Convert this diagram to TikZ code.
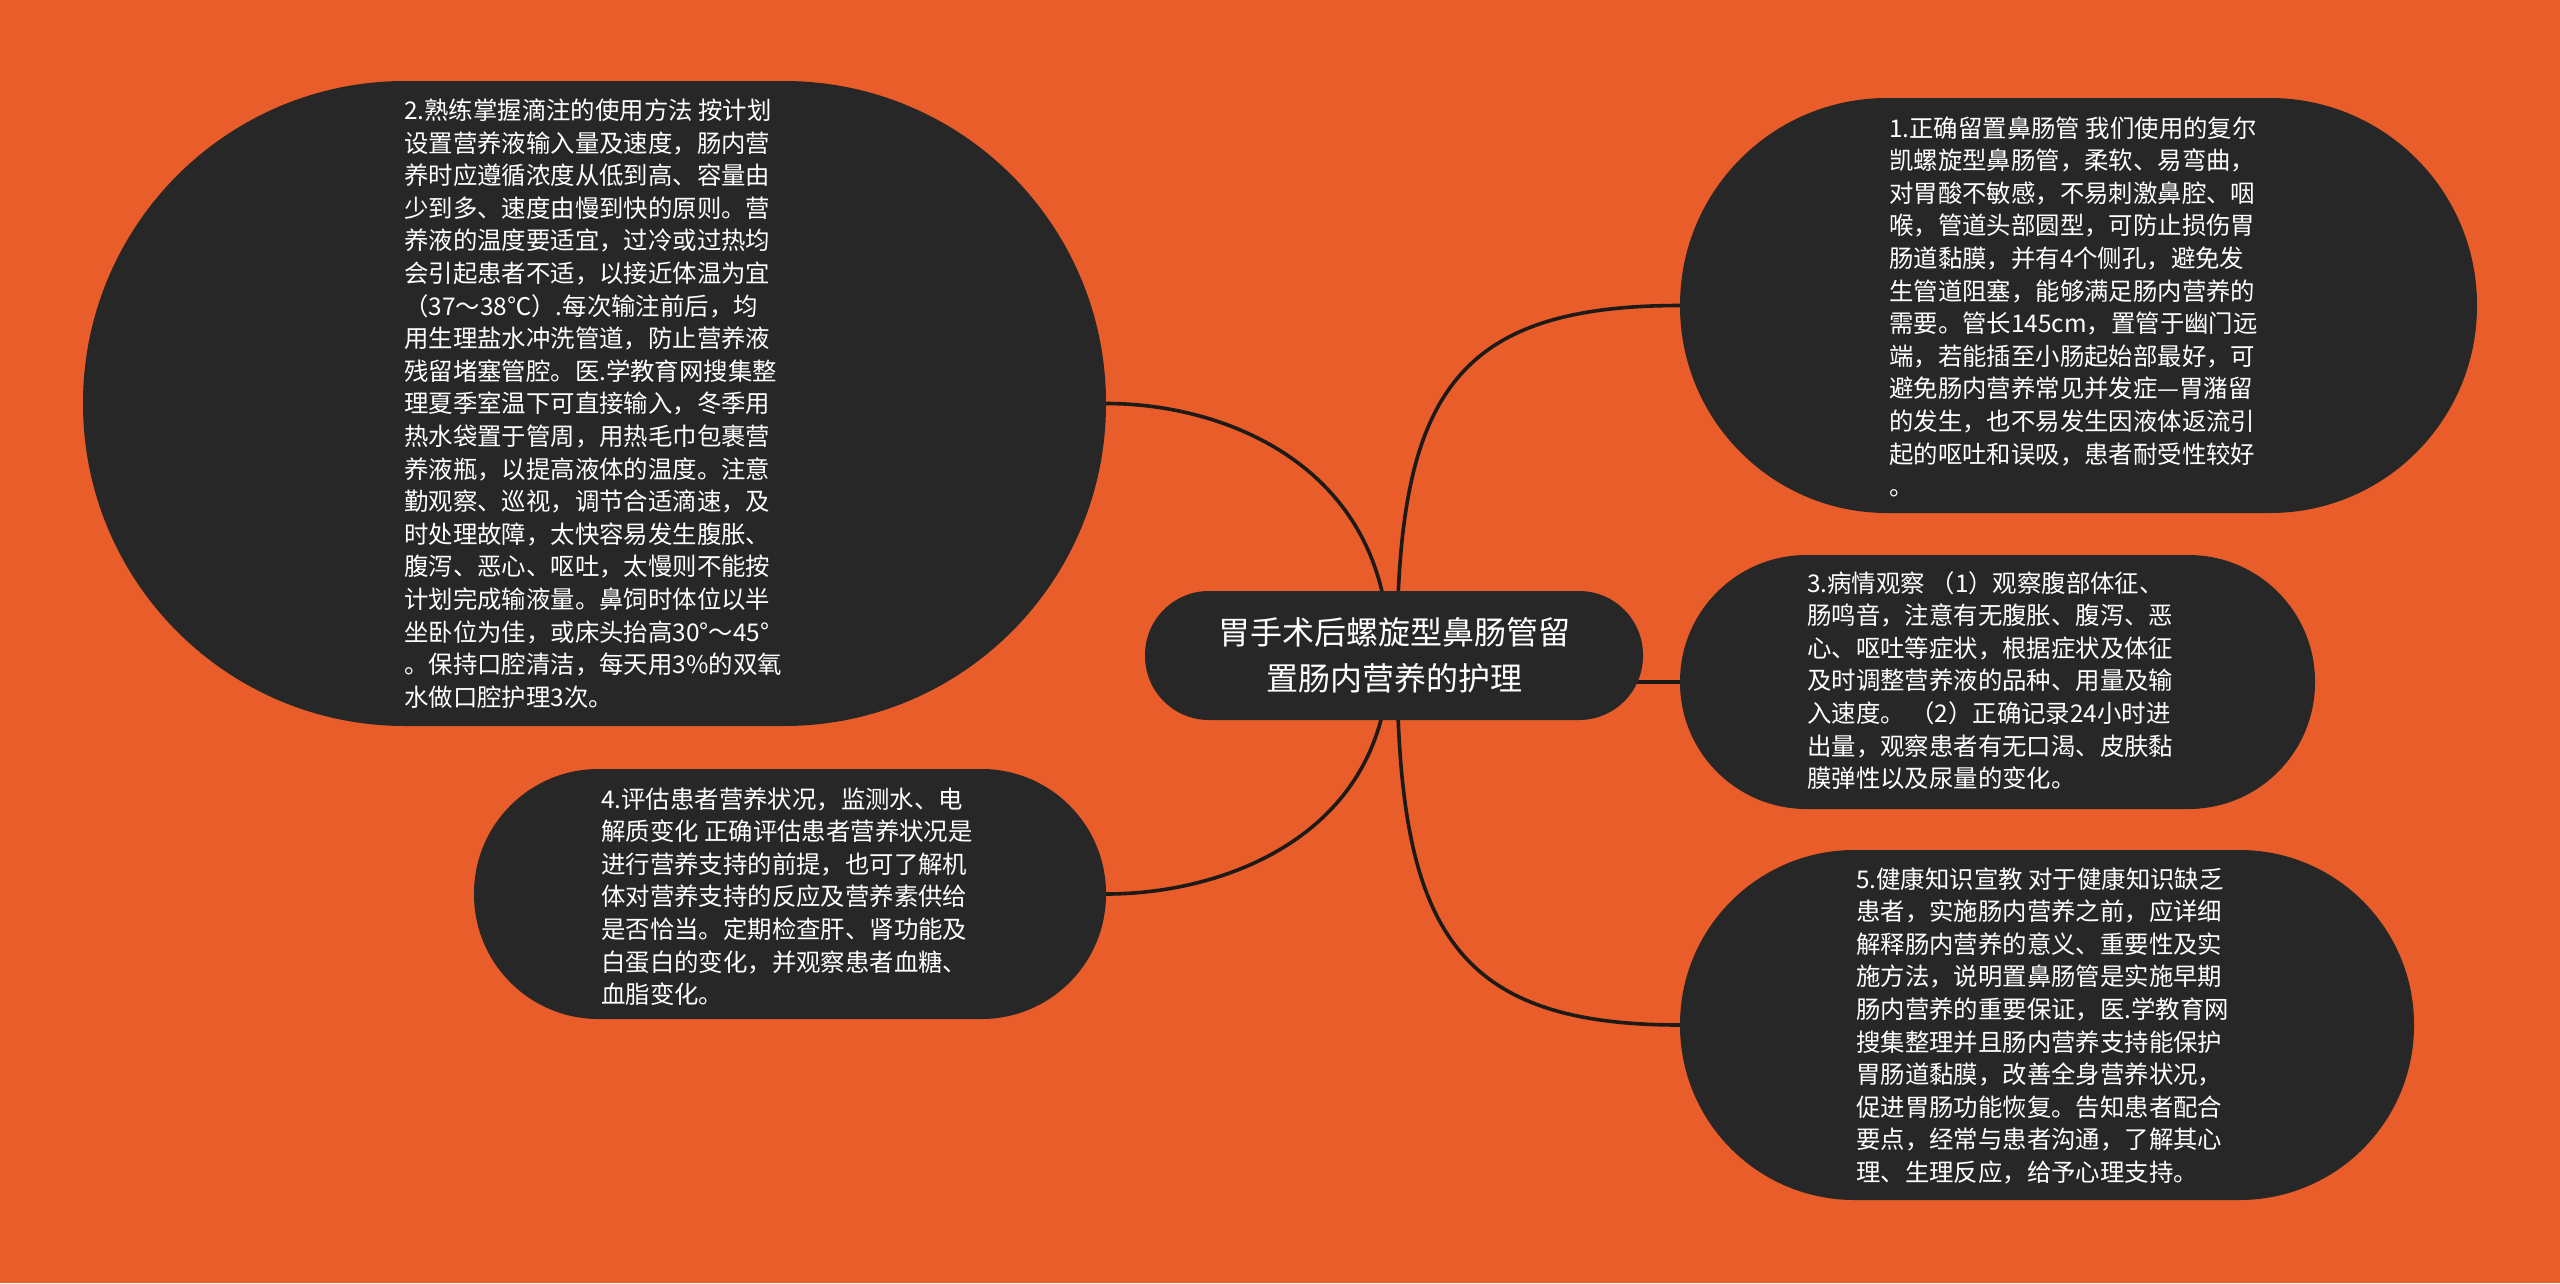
\documentclass[tikz,border=0pt]{standalone}
\usepackage{fontspec}
\newfontfamily\cjk{Noto Sans CJK SC}
\pgfdeclarelayer{back}
\pgfdeclarelayer{conn}
\pgfsetlayers{back,conn,main}
\definecolor{bgorange}{HTML}{E85D2A}
\definecolor{nodedark}{HTML}{272727}
\definecolor{linedark}{HTML}{1E1A18}
\newcommand{\bodytext}[1]{\parbox[t]{700pt}{\raggedright\cjk\fontsize{24.4pt}{32.6pt}\selectfont #1}}
\begin{document}
\begin{tikzpicture}[x=1pt,y=-1pt,
  pill/.style={rectangle, fill=nodedark, inner sep=0pt, rounded corners=#1},
  bodylabel/.style={anchor=base west, inner sep=0pt, text=white},
  connector/.style={draw=linedark, line width=3.6pt},
]
\begin{pgfonlayer}{back}
\fill[bgorange] (0,0) rectangle (2560,1283);
\end{pgfonlayer}
\useasboundingbox (0,0) rectangle (2560,1283);

% centre
\node[pill=64pt, minimum width=498pt, minimum height=129pt, text=white, align=center,
  font={\cjk\fontsize{32pt}{46.4pt}\selectfont}] (ctr) at (1394,655.5)
  {胃手术后螺旋型鼻肠管留\\置肠内营养的护理};

% child shapes
\node[pill=207pt, minimum width=797pt, minimum height=415pt] (n1) at (2078.5,305.5) {};
\node[pill=322pt, minimum width=1023pt, minimum height=645pt] (n2) at (594.5,403.5) {};
\node[pill=126.5pt, minimum width=635pt, minimum height=254pt] (n3) at (1997.5,682) {};
\node[pill=124.5pt, minimum width=632pt, minimum height=250pt] (n4) at (790,894) {};
\node[pill=174.5pt, minimum width=734pt, minimum height=350pt] (n5) at (2047,1025) {};

% texts
\node[bodylabel] (t1) at (1889,137) {\bodytext{1.正确留置鼻肠管 我们使用的复尔\\
凯螺旋型鼻肠管，柔软、易弯曲，\\
对胃酸不敏感，不易刺激鼻腔、咽\\
喉，管道头部圆型，可防止损伤胃\\
肠道黏膜，并有4个侧孔，避免发\\
生管道阻塞，能够满足肠内营养的\\
需要。管长145cm，置管于幽门远\\
端，若能插至小肠起始部最好，可\\
避免肠内营养常见并发症—胃潴留\\
的发生，也不易发生因液体返流引\\
起的呕吐和误吸，患者耐受性较好\\
。}};

\node[bodylabel] (t2) at (404,119.5) {\bodytext{2.熟练掌握滴注的使用方法 按计划\\
设置营养液输入量及速度，肠内营\\
养时应遵循浓度从低到高、容量由\\
少到多、速度由慢到快的原则。营\\
养液的温度要适宜，过冷或过热均\\
会引起患者不适，以接近体温为宜\\
（37～38℃）.每次输注前后，均\\
用生理盐水冲洗管道，防止营养液\\
残留堵塞管腔。医.学教育网搜集整\\
理夏季室温下可直接输入，冬季用\\
热水袋置于管周，用热毛巾包裹营\\
养液瓶，以提高液体的温度。注意\\
勤观察、巡视，调节合适滴速，及\\
时处理故障，太快容易发生腹胀、\\
腹泻、恶心、呕吐，太慢则不能按\\
计划完成输液量。鼻饲时体位以半\\
坐卧位为佳，或床头抬高30°～45°\\
。保持口腔清洁，每天用3\%的双氧\\
水做口腔护理3次。}};

\node[bodylabel] (t3) at (1807,592) {\bodytext{3.病情观察 （1）观察腹部体征、\\
肠鸣音，注意有无腹胀、腹泻、恶\\
心、呕吐等症状，根据症状及体征\\
及时调整营养液的品种、用量及输\\
入速度。 （2）正确记录24小时进\\
出量，观察患者有无口渴、皮肤黏\\
膜弹性以及尿量的变化。}};

\node[bodylabel] (t4) at (601,808) {\bodytext{4.评估患者营养状况，监测水、电\\
解质变化 正确评估患者营养状况是\\
进行营养支持的前提，也可了解机\\
体对营养支持的反应及营养素供给\\
是否恰当。定期检查肝、肾功能及\\
白蛋白的变化，并观察患者血糖、\\
血脂变化。}};

\node[bodylabel] (t5) at (1856,888) {\bodytext{5.健康知识宣教 对于健康知识缺乏\\
患者，实施肠内营养之前，应详细\\
解释肠内营养的意义、重要性及实\\
施方法，说明置鼻肠管是实施早期\\
肠内营养的重要保证，医.学教育网\\
搜集整理并且肠内营养支持能保护\\
胃肠道黏膜，改善全身营养状况，\\
促进胃肠功能恢复。告知患者配合\\
要点，经常与患者沟通，了解其心\\
理、生理反应，给予心理支持。}};

% connectors
\coordinate (hubL) at (1389,655.5);
\coordinate (hubR) at (1397,655.5);
\begin{pgfonlayer}{conn}
\draw[connector] (hubR) .. controls (1397,400) and (1450,305.5) .. (n1.west);
\draw[connector] (hubL) .. controls (1389,470) and (1230,403.5) .. (n2.east);
\draw[connector] (ctr.center |- n3.west) -- (n3.west);
\draw[connector] (hubL) .. controls (1389,831) and (1230,894) .. (n4.east);
\draw[connector] (hubR) .. controls (1397,925) and (1450,1025) .. (n5.west);
\end{pgfonlayer}
\end{tikzpicture}
\end{document}
